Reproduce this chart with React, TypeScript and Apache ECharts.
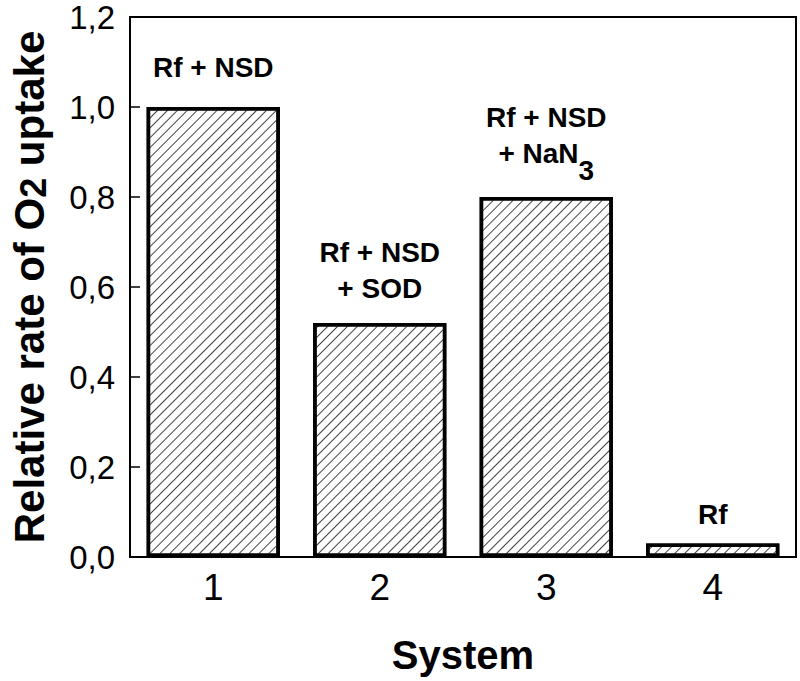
import React, { useEffect, useRef } from "react";
import * as echarts from "echarts";

const categories = ["1", "2", "3", "4"];
const values = [1.0, 0.52, 0.8, 0.03];
const barLabels = [
  "{b|Rf + NSD}",
  "{b|Rf + NSD}\n{b|+ SOD}",
  "{b|Rf + NSD}\n{b|+ NaN}{s|3}",
  "{b|Rf}",
];
const yTickLabels = ["0,0", "0,2", "0,4", "0,6", "0,8", "1,0", "1,2"];
const labelDistances = [22, 17, 26, 11];

const FONT = "'Liberation Sans', Arial, Helvetica, sans-serif";

export default function App() {
  const ref = useRef<HTMLDivElement>(null);
  useEffect(() => {
    if (!ref.current) return;
    const chart = echarts.init(ref.current, undefined, { renderer: "svg" });
    chart.setOption({
      animation: false,
      backgroundColor: "#fff",
      grid: {
        left: 130,
        right: 4,
        top: 17,
        bottom: 124,
        outerBoundsMode: "none",
        containLabel: false,
        show: true,
        borderColor: "#000",
        borderWidth: 2,
        backgroundColor: "transparent",
      },
      xAxis: {
        type: "category",
        data: categories,
        z: 5,
        axisLine: { lineStyle: { color: "#000", width: 2 } },
        axisTick: {
          alignWithLabel: true,
          inside: true,
          length: 10,
          lineStyle: { color: "#000", width: 1.5 },
        },
        axisLabel: { color: "#000", fontSize: 37, fontFamily: FONT, margin: 12 },
        name: "System",
        nameLocation: "middle",
        nameGap: 78,
        nameTextStyle: { color: "#000", fontSize: 40, fontWeight: "bold", fontFamily: FONT },
      },
      yAxis: {
        type: "value",
        min: 0,
        max: 1.2,
        interval: 0.2,
        z: 5,
        splitLine: { show: false },
        axisLine: { show: true, lineStyle: { color: "#000", width: 2 } },
        axisTick: { show: true, inside: true, length: 10, lineStyle: { color: "#000", width: 1.5 } },
        axisLabel: {
          color: "#000",
          fontSize: 33,
          fontFamily: FONT,
          margin: 15,
          formatter: (v: number) => yTickLabels[Math.round(v / 0.2)] ?? "",
        },
        name: "{a|Relative rate of O}{s|2}{a| uptake}",
        nameLocation: "middle",
        nameGap: 80,
        nameTextStyle: {
          rich: {
            a: { color: "#000", fontSize: 42, fontWeight: "bold", fontFamily: FONT },
            s: {
              color: "#000",
              fontSize: 36,
              fontWeight: "bold",
              fontFamily: FONT,
              padding: [4, 0, -4, 0],
            },
          },
        },
      },
      series: [
        {
          type: "bar",
          barWidth: "80%",
          data: values.map((v, i) => ({
            value: v,
            label: { formatter: barLabels[i], distance: labelDistances[i] },
          })),
          itemStyle: {
            color: "#fff",
            borderColor: "#000",
            borderWidth: 3.5,
            decal: {
              symbol: "rect",
              color: "#444",
              backgroundColor: "#fff",
              dashArrayX: [1, 0],
              dashArrayY: [1, 5.3],
              rotation: -Math.PI / 4,
            },
          },
          label: {
            show: true,
            position: "top",
            align: "center",
            lineHeight: 36,
            rich: {
              b: { color: "#000", fontSize: 28, fontWeight: "bold", fontFamily: FONT, lineHeight: 36 },
              s: {
                color: "#000",
                fontSize: 28,
                fontWeight: "bold",
                fontFamily: FONT,
                padding: [17, 0, -17, 0],
              },
            },
          },
        },
      ],
    });
    return () => chart.dispose();
  }, []);
  return <div ref={ref} style={{ width: 800, height: 681, position: "absolute", left: 0, top: 0 }} />;
}
